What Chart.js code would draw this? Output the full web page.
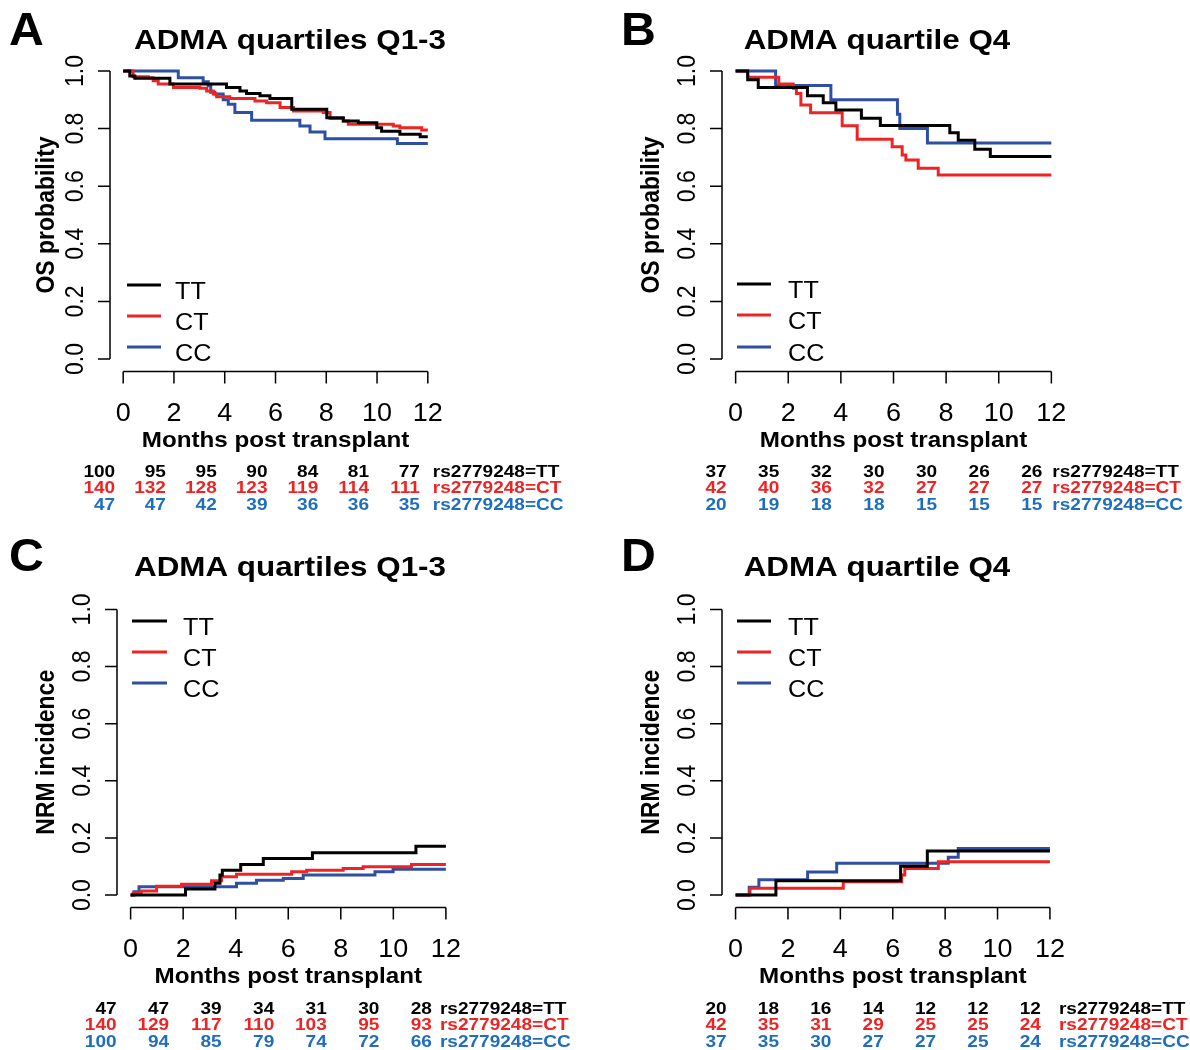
<!DOCTYPE html>
<html>
<head>
<meta charset="utf-8">
<script src="https://cdn.jsdelivr.net/npm/chart.js@4.4.1/dist/chart.umd.min.js"></script>
<style>
  body { margin: 0; background: #fff; width: 1190px; height: 1050px; position: relative; overflow: hidden; }
  canvas { position: absolute; }
</style>
</head>
<body>
<canvas id="panelA" width="595" height="525" style="left:0;top:0"></canvas>
<canvas id="panelB" width="595" height="525" style="left:595px;top:0"></canvas>
<canvas id="panelC" width="595" height="525" style="left:0;top:525px"></canvas>
<canvas id="panelD" width="595" height="525" style="left:595px;top:525px"></canvas>
<script>
// ---- data ----
const xTicks = [0, 2, 4, 6, 8, 10, 12];
const yTicks = [0, 0.2, 0.4, 0.6, 0.8, 1];
const yTickLabels = ['0.0', '0.2', '0.4', '0.6', '0.8', '1.0'];
const genotypes = ['TT', 'CT', 'CC'];
const riskTimes = [0, 2, 4, 6, 8, 10, 12];

// A: OS, ADMA quartiles Q1-3
const osLowTimeTT = [0, 0.26, 0.46, 1.84, 4.07, 4.6, 4.86, 5.39, 5.78, 6.64, 8.02, 8.67, 9.26, 9.99, 10.18, 10.9, 11.7, 12];
const osLowSurvTT = [1, 0.983, 0.975, 0.955, 0.943, 0.931, 0.922, 0.914, 0.905, 0.867, 0.838, 0.826, 0.82, 0.803, 0.791, 0.78, 0.772, 0.772];
const osLowTimeCT = [0, 0.39, 0.99, 1.18, 1.38, 1.98, 3.02, 3.29, 3.55, 3.68, 4.2, 5.19, 5.65, 6.18, 6.71, 7.88, 8.15, 8.67, 8.87, 10.64, 10.9, 11.76, 12];
const osLowSurvCT = [1, 0.98, 0.977, 0.966, 0.955, 0.943, 0.94, 0.931, 0.92, 0.911, 0.905, 0.896, 0.89, 0.873, 0.861, 0.856, 0.835, 0.826, 0.815, 0.809, 0.803, 0.795, 0.795];
const osLowTimeCC = [0, 2.17, 3.15, 3.35, 3.45, 3.61, 3.94, 4.14, 4.4, 5.06, 6.96, 7.36, 7.95, 10.8, 12];
const osLowSurvCC = [1, 0.977, 0.963, 0.949, 0.926, 0.92, 0.9, 0.885, 0.856, 0.829, 0.809, 0.788, 0.765, 0.748, 0.748];

// B: OS, ADMA quartile Q4
const osHighTimeTT = [0, 0.46, 0.86, 2.73, 3.33, 3.81, 4.78, 5.5, 8.14, 8.46, 9.09, 9.68, 12];
const osHighSurvTT = [1, 0.97, 0.943, 0.914, 0.89, 0.865, 0.836, 0.811, 0.786, 0.76, 0.728, 0.703, 0.703];
const osHighTimeCT = [0, 0.46, 1.64, 2.19, 2.31, 2.48, 2.85, 4.05, 4.62, 5.95, 6.33, 6.47, 6.94, 7.7, 12];
const osHighSurvCT = [1, 0.978, 0.955, 0.94, 0.922, 0.882, 0.855, 0.81, 0.763, 0.737, 0.708, 0.691, 0.662, 0.639, 0.639];
const osHighTimeCC = [0, 1.52, 3.62, 6.15, 6.24, 7.29, 12];
const osHighSurvCC = [1, 0.95, 0.9, 0.85, 0.8, 0.75, 0.75];

// C: NRM, ADMA quartiles Q1-3
const nrmLowTimeTT = [0, 2.09, 3.21, 3.4, 3.49, 4.19, 5.05, 6.92, 10.86, 12];
const nrmLowIncTT = [0, 0.021, 0.041, 0.07, 0.087, 0.107, 0.128, 0.148, 0.171, 0.171];
const nrmLowTimeCT = [0, 0.1, 0.4, 0.99, 1.94, 3.08, 3.46, 4.03, 6.13, 6.7, 8.09, 8.85, 10.69, 12];
const nrmLowIncCT = [0, 0.007, 0.014, 0.031, 0.038, 0.05, 0.064, 0.073, 0.082, 0.087, 0.093, 0.099, 0.107, 0.107];
const nrmLowTimeCC = [0, 0.13, 0.32, 4.03, 4.79, 5.81, 6.57, 9.3, 9.99, 12];
const nrmLowIncCC = [0, 0.012, 0.029, 0.041, 0.052, 0.058, 0.07, 0.082, 0.09, 0.09];

// D: NRM, ADMA quartile Q4
const nrmHighTimeTT = [0, 1.54, 6.3, 7.32, 12];
const nrmHighIncTT = [0, 0.05, 0.101, 0.154, 0.154];
const nrmHighTimeCT = [0, 0.55, 4.11, 6.34, 6.46, 7.74, 12];
const nrmHighIncCT = [0, 0.024, 0.047, 0.07, 0.093, 0.117, 0.117];
const nrmHighTimeCC = [0, 0.52, 0.89, 2.75, 3.86, 8.12, 8.5, 12];
const nrmHighIncCC = [0, 0.027, 0.054, 0.081, 0.111, 0.132, 0.163, 0.163];

// numbers at risk
const riskA_TT = [100, 95, 95, 90, 84, 81, 77];
const riskA_CT = [140, 132, 128, 123, 119, 114, 111];
const riskA_CC = [47, 47, 42, 39, 36, 36, 35];
const riskB_TT = [37, 35, 32, 30, 30, 26, 26];
const riskB_CT = [42, 40, 36, 32, 27, 27, 27];
const riskB_CC = [20, 19, 18, 18, 15, 15, 15];
const riskC_TT = [47, 47, 39, 34, 31, 30, 28];
const riskC_CT = [140, 129, 117, 110, 103, 95, 93];
const riskC_CC = [100, 94, 85, 79, 74, 72, 66];
const riskD_TT = [20, 18, 16, 14, 12, 12, 12];
const riskD_CT = [42, 35, 31, 29, 25, 25, 24];
const riskD_CC = [37, 35, 30, 27, 27, 25, 24];

// ---- styling ----
const lineColors = ['#000000', '#ee2424', '#2f4fa3'];
const textColors = ['#000000', '#ee2424', '#1f6ebe'];
const FONT = '"Liberation Sans", Arial, sans-serif';
const SX = 1.1; // the figure is slightly stretched horizontally

function toPoints(ts, vs) {
  return ts.map((t, i) => ({ x: t, y: vs[i] }));
}

function txt(ctx, s, x, y, font, color, align, sx, rot) {
  ctx.save();
  ctx.translate(x, y);
  ctx.scale(sx || 1, 1);
  if (rot) ctx.rotate(rot);
  ctx.font = font;
  ctx.fillStyle = color;
  ctx.textAlign = align || 'center';
  ctx.textBaseline = 'middle';
  ctx.fillText(s, 0, 0);
  ctx.restore();
}

// draws the R style axes, titles, legend and risk table
function decor(p) {
  return {
    id: 'decor' + p.letter,
    afterDraw(chart) {
      const ctx = chart.ctx;
      const a = chart.chartArea;
      const x = chart.scales.x, y = chart.scales.y;
      ctx.save();
      ctx.strokeStyle = '#000';
      ctx.lineWidth = 1.5;
      ctx.beginPath();
      const xb = a.bottom + 1;
      ctx.moveTo(x.getPixelForValue(0), xb);
      ctx.lineTo(x.getPixelForValue(12), xb);
      xTicks.forEach(t => {
        const px = x.getPixelForValue(t);
        ctx.moveTo(px, xb);
        ctx.lineTo(px, xb + 12);
      });
      const yl = a.left - 1;
      ctx.moveTo(yl, y.getPixelForValue(0));
      ctx.lineTo(yl, y.getPixelForValue(1));
      yTicks.forEach(v => {
        const py = y.getPixelForValue(v);
        ctx.moveTo(yl, py);
        ctx.lineTo(yl - 12, py);
      });
      ctx.stroke();

      xTicks.forEach(t => {
        txt(ctx, String(t), x.getPixelForValue(t), a.bottom + 44, '25px ' + FONT, '#000', 'center', 1.08);
      });
      yTicks.forEach((v, i) => {
        txt(ctx, yTickLabels[i], a.left - 35, y.getPixelForValue(v), '23px ' + FONT, '#000', 'center', SX, -Math.PI / 2);
      });
      txt(ctx, 'Months post transplant', (a.left + a.right) / 2, a.bottom + 70, 'bold 22px ' + FONT, '#000', 'center', 1.1);
      txt(ctx, p.yTitle, p.yTitleX, (y.getPixelForValue(0) + y.getPixelForValue(1)) / 2, 'bold 23px ' + FONT, '#000', 'center', SX, -Math.PI / 2);

      txt(ctx, p.title, p.titleX, p.titleY, 'bold 28px ' + FONT, '#000', 'center', 1.12);
      txt(ctx, p.letter, p.letterX, p.letterY, 'bold 46px ' + FONT, '#000', 'left', 1.05);

      // legend
      genotypes.forEach((g, i) => {
        const ly = p.legY[i];
        ctx.strokeStyle = lineColors[i];
        ctx.lineWidth = 3;
        ctx.beginPath();
        ctx.moveTo(p.legX0, ly);
        ctx.lineTo(p.legX1, ly);
        ctx.stroke();
        txt(ctx, g, p.legTextX, ly + 7, '24px ' + FONT, '#000', 'left', 1.05);
      });

      // numbers at risk
      p.risk.forEach((row, i) => {
        row.forEach((n, j) => {
          txt(ctx, String(n), x.getPixelForValue(riskTimes[j]) + p.riskOff, p.riskY[i], 'bold 17px ' + FONT, textColors[i], 'right', 1.12);
        });
        txt(ctx, 'rs2779248=' + genotypes[i], x.getPixelForValue(12) + p.labOff, p.riskY[i], 'bold 17px ' + FONT, textColors[i], 'left', 1.12);
      });
      ctx.restore();
    }
  };
}

function makePanel(id, p) {
  new Chart(document.getElementById(id), {
    type: 'line',
    data: {
      datasets: p.series.map((s, i) => ({
        label: genotypes[i],
        data: toPoints(s[0], s[1]),
        borderColor: lineColors[i],
        borderWidth: 3,
        pointRadius: 0,
        stepped: true,
        fill: false
      }))
    },
    options: {
      responsive: false,
      animation: false,
      events: [],
      layout: { padding: p.pad },
      plugins: { legend: { display: false }, tooltip: { enabled: false } },
      scales: {
        x: { type: 'linear', min: -0.48, max: 12.48, display: false },
        y: { type: 'linear', min: -0.04, max: 1.04, display: false }
      }
    },
    plugins: [decor(p)]
  });
}

makePanel('panelA', {
  letter: 'A', letterX: 9, letterY: 32, title: 'ADMA quartiles Q1-3', titleX: 290, titleY: 41,
  yTitle: 'OS probability', yTitleX: 47,
  pad: { left: 111, right: 155, top: 59.5, bottom: 154.5 },
  series: [[osLowTimeTT, osLowSurvTT], [osLowTimeCT, osLowSurvCT], [osLowTimeCC, osLowSurvCC]],
  legX0: 127, legX1: 161, legTextX: 175, legY: [285, 316, 347],
  risk: [riskA_TT, riskA_CT, riskA_CC], riskOff: -8, labOff: 5, riskY: [472, 488.5, 505]
});
makePanel('panelB', {
  letter: 'B', letterX: 26, letterY: 32, title: 'ADMA quartile Q4', titleX: 282, titleY: 41,
  yTitle: 'OS probability', yTitleX: 57,
  pad: { left: 128, right: 126, top: 59.5, bottom: 154.5 },
  series: [[osHighTimeTT, osHighSurvTT], [osHighTimeCT, osHighSurvCT], [osHighTimeCC, osHighSurvCC]],
  legX0: 142, legX1: 176, legTextX: 193, legY: [284, 315, 347],
  risk: [riskB_TT, riskB_CT, riskB_CC], riskOff: -9, labOff: 1, riskY: [472, 488.5, 505]
});
makePanel('panelC', {
  letter: 'C', letterX: 9, letterY: 33, title: 'ADMA quartiles Q1-3', titleX: 290, titleY: 43,
  yTitle: 'NRM incidence', yTitleX: 47,
  pad: { left: 118, right: 136.5, top: 73, bottom: 143.5 },
  series: [[nrmLowTimeTT, nrmLowIncTT], [nrmLowTimeCT, nrmLowIncCT], [nrmLowTimeCC, nrmLowIncCC]],
  legX0: 132, legX1: 167, legTextX: 183, legY: [96, 127, 158],
  risk: [riskC_TT, riskC_CT, riskC_CC], riskOff: -14, labOff: -6, riskY: [484, 500.5, 517]
});
makePanel('panelD', {
  letter: 'D', letterX: 26, letterY: 33, title: 'ADMA quartile Q4', titleX: 282, titleY: 43,
  yTitle: 'NRM incidence', yTitleX: 57,
  pad: { left: 128, right: 127.5, top: 73, bottom: 143.5 },
  series: [[nrmHighTimeTT, nrmHighIncTT], [nrmHighTimeCT, nrmHighIncCT], [nrmHighTimeCC, nrmHighIncCC]],
  legX0: 142, legX1: 176, legTextX: 193, legY: [96, 127, 158],
  risk: [riskD_TT, riskD_CT, riskD_CC], riskOff: -9, labOff: 9, riskY: [484, 500.5, 517]
});
</script>
</body>
</html>
